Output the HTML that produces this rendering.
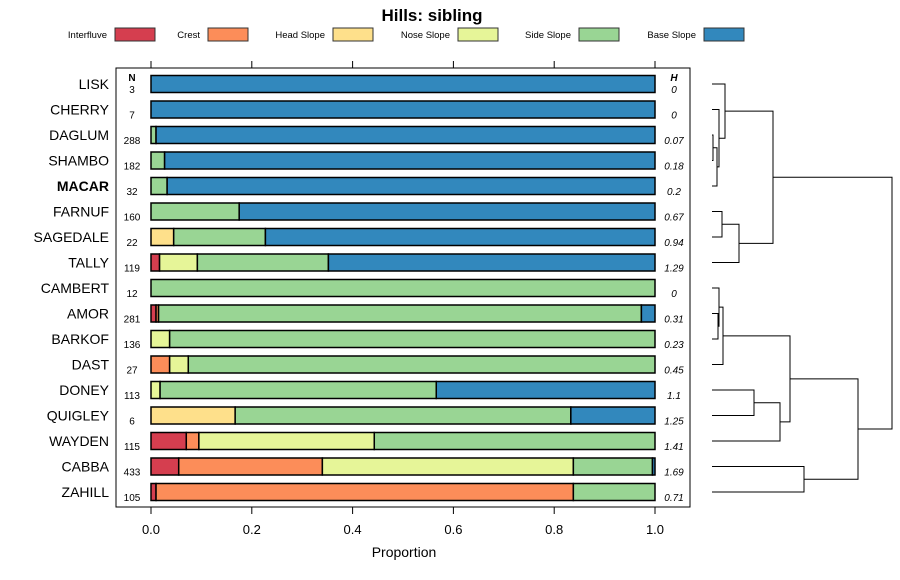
<!DOCTYPE html>
<html><head><meta charset="utf-8"><style>
html,body{margin:0;padding:0;background:#fff;}
svg{display:block;font-family:"Liberation Sans",sans-serif;}
</style></head><body>
<svg id="chart" width="900" height="580" viewBox="0 0 900 580">
<text x="432" y="21" text-anchor="middle" font-size="17" font-weight="bold">Hills: sibling</text>
<g id="legend"></g>
<rect x="116" y="68" width="574" height="439" fill="none" stroke="#000" stroke-width="1"/>
<g id="axes"></g>
<g id="bars"></g>
<g id="dendro" fill="none" stroke="#000" stroke-width="1"></g>
<text x="404" y="557" text-anchor="middle" font-size="14">Proportion</text>
</svg>
<script>
const classes = ["Interfluve","Crest","Head Slope","Nose Slope","Side Slope","Base Slope"];
const colors = ["#D53E4F","#FC8D59","#FEE08B","#E6F598","#99D594","#3288BD"];
const series = ["LISK","CHERRY","DAGLUM","SHAMBO","MACAR","FARNUF","SAGEDALE","TALLY","CAMBERT","AMOR","BARKOF","DAST","DONEY","QUIGLEY","WAYDEN","CABBA","ZAHILL"];
const nValues = [3,7,288,182,32,160,22,119,12,281,136,27,113,6,115,433,105];
const hValues = ["0","0","0.07","0.18","0.2","0.67","0.94","1.29","0","0.31","0.23","0.45","1.1","1.25","1.41","1.69","0.71"];
const interfluve = [0,0,0,0,0,0,0,0.017,0,0.01,0,0,0,0,0.07,0.055,0.01];
const crest      = [0,0,0,0,0,0,0,0,0,0.005,0,0.037,0,0,0.025,0.285,0.828];
const headSlope  = [0,0,0,0,0,0,0.045,0,0,0,0,0,0,0.167,0,0,0];
const noseSlope  = [0,0,0,0,0,0,0,0.075,0,0,0.037,0.037,0.018,0,0.348,0.498,0];
const sideSlope  = [0,0,0.01,0.027,0.032,0.175,0.182,0.26,1,0.958,0.963,0.926,0.548,0.666,0.557,0.157,0.162];
const baseSlope  = [1,1,0.99,0.973,0.968,0.825,0.773,0.648,0,0.027,0,0,0.434,0.167,0,0.005,0];
const xTicks = [0,0.2,0.4,0.6,0.8,1.0];
const xTickLabels = ["0.0","0.2","0.4","0.6","0.8","1.0"];
// dendrogram merges: [left, right, height]; negative = leaf index, positive = merge index (1-based)
const merges = [[-2,-3,0.02],[-4,1,0.1],[-1,2,0.14],[-0,3,0.26],[-5,-6,0.2],[5,-7,0.54],[4,6,1.22],
 [-9,-10,0.12],[-8,8,0.14],[9,-11,0.22],[-12,-13,0.84],[11,-14,1.36],[10,12,1.56],[-15,-16,1.84],[13,14,2.92],[7,15,3.6]];

const NS="http://www.w3.org/2000/svg";
function mk(tag,attrs,parent){const e=document.createElementNS(NS,tag);for(const k in attrs)e.setAttribute(k,attrs[k]);parent.appendChild(e);return e;}
const xS=v=>151+v*504;
const yS=i=>84+i*25.5;
const dX=h=>712+h*50;

// legend
const lg=document.getElementById('legend');
const legX=[107,200,325,450,571,696];
classes.forEach((c,i)=>{
  const t=mk('text',{x:legX[i],y:38,'text-anchor':'end','font-size':9.5},lg);t.textContent=c;
  
  
  const r=mk('rect',{x:legX[i]+8,y:28,width:40,height:13,fill:colors[i],stroke:'#333','stroke-width':1},lg);
  
  
});

// axes
const ax=document.getElementById('axes');
xTicks.forEach((v,i)=>{
  const x=xS(v);
  let l=mk('line',{x1:x,x2:x,y1:61,y2:68,stroke:'#000'},ax);
  
  
  l=mk('line',{x1:x,x2:x,y1:507,y2:514,stroke:'#000'},ax);
  
  
  const t=mk('text',{x:x,y:534,'text-anchor':'middle','font-size':13},ax);t.textContent=xTickLabels[i];
  
  
});
let hN=mk('text',{x:132,y:81,'text-anchor':'middle','font-size':10,'font-weight':'bold'},ax);hN.textContent='N';


let hH=mk('text',{x:674,y:81,'text-anchor':'middle','font-size':10,'font-weight':'bold','font-style':'italic'},ax);hH.textContent='H';



// bars
const bg=document.getElementById('bars');
const vals=[interfluve,crest,headSlope,noseSlope,sideSlope,baseSlope];
series.forEach((s,i)=>{
  const y=yS(i);
  const lab=mk('text',{x:109,y:y+5,'text-anchor':'end','font-size':14,'font-weight':s==='MACAR'?'bold':'normal'},bg);lab.textContent=s;
  
  
  const n=mk('text',{x:132,y:y+9,'text-anchor':'middle','font-size':10},bg);n.textContent=nValues[i];
  
  
  const h=mk('text',{x:674,y:y+9,'text-anchor':'middle','font-size':10,'font-style':'italic'},bg);h.textContent=hValues[i];
  
  
  let cum=0;
  vals.forEach((arr,k)=>{
    const v=arr[i]; if(v<=0) return;
    const r=mk('rect',{x:xS(cum),y:y-8.5,width:Math.max(v*504,0.5),height:17,fill:colors[k],stroke:'#000','stroke-width':1.5},bg);
    
    
    cum+=v;
  });
});

// dendrogram
const dg=document.getElementById('dendro');
const pos=[];
function node(id){ if(id<=0) return {y:yS(-id),h:0}; return pos[id]; }
merges.forEach((m,idx)=>{
  const a=node(m[0]),b=node(m[1]),x=dX(m[2]);
  const p=mk('path',{d:`M${dX(a.h)} ${a.y}H${x}V${b.y}H${dX(b.h)}`},dg);
  
  
  pos[idx+1]={y:(a.y+b.y)/2,h:m[2]};
});
</script>
</body></html>
